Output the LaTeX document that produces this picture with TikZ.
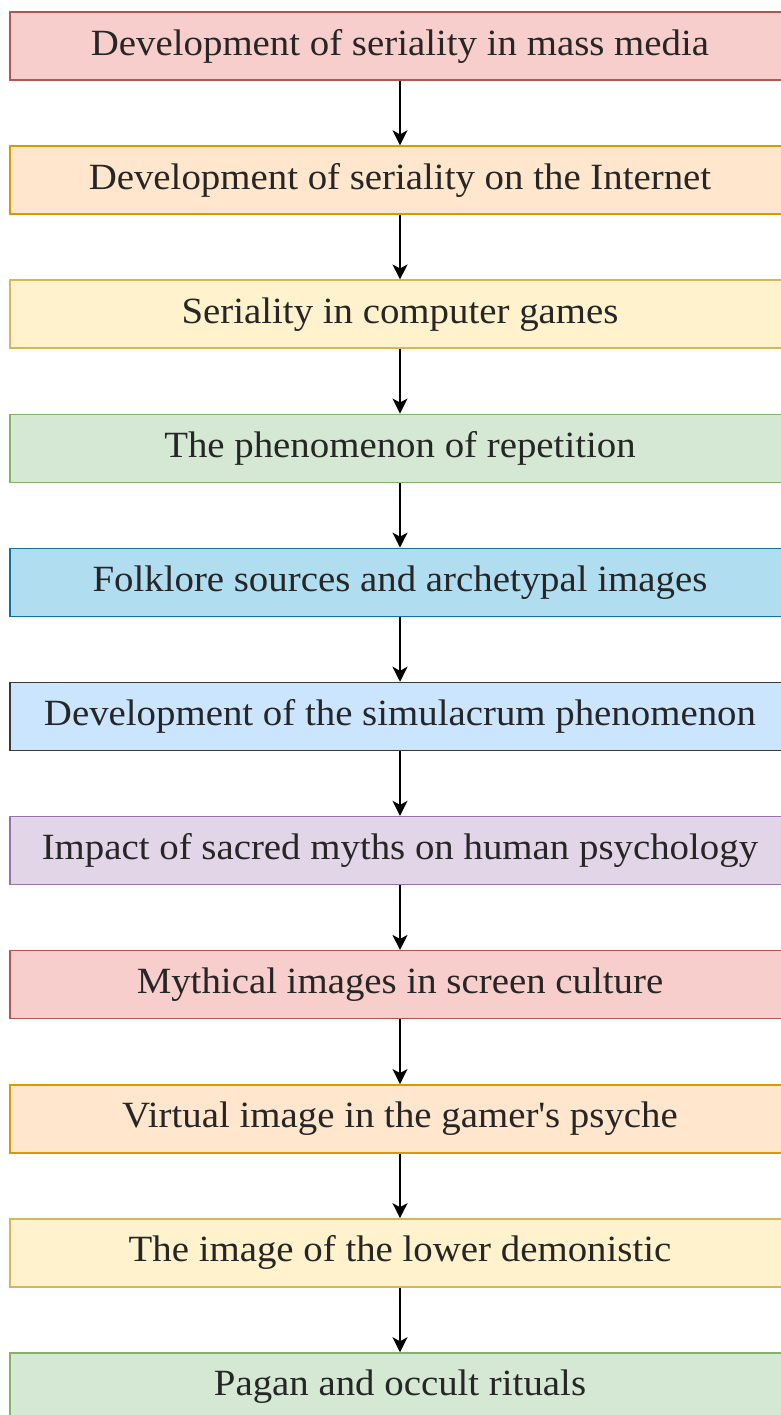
\documentclass[tikz,border=0pt]{standalone}
\usepackage{fontspec}
\setmainfont{Liberation Serif}[FakeStretch=1.05]
\usetikzlibrary{arrows.meta, positioning}
\definecolor{redfill}{HTML}{F8CECC}
\definecolor{redline}{HTML}{B85450}
\definecolor{orangefill}{HTML}{FFE6CC}
\definecolor{orangeline}{HTML}{D79B00}
\definecolor{yellowfill}{HTML}{FFF2CC}
\definecolor{yellowline}{HTML}{D6B656}
\definecolor{greenfill}{HTML}{D5E8D4}
\definecolor{greenline}{HTML}{82B366}
\definecolor{bluefill}{HTML}{B1DDF0}
\definecolor{blueline}{HTML}{10739E}
\definecolor{skyfill}{HTML}{CCE5FF}
\definecolor{skyline}{HTML}{36393D}
\definecolor{purplefill}{HTML}{E1D5E7}
\definecolor{purpleline}{HTML}{9673A6}

\begin{document}
\begin{tikzpicture}[
  x=1pt, y=1pt,
  node distance=64.6pt,
  box/.style={draw=#1line, fill=#1fill, line width=1.5pt, minimum height=68pt, minimum width=780pt, inner sep=0pt, text=black!85, font=\fontsize{37}{42}\selectfont},
  arr/.style={-{Stealth[length=15pt, width=15pt, inset=4pt]}, line width=1.8pt},
]
\useasboundingbox (0,0) rectangle (781,-1415);
\clip (0,0) rectangle (781,-1415);
\node[box=red] (media) at (400,-46) {Development of seriality in mass media};
\node[box=orange, below=of media] (internet) {Development of seriality on the Internet};
\node[box=yellow, below=of internet] (games) {Seriality in computer games};
\node[box=green, below=of games] (repeat) {The phenomenon of repetition};
\node[box=blue, below=of repeat] (folk) {Folklore sources and archetypal images};
\node[box=sky, below=of folk] (simul) {Development of the simulacrum phenomenon};
\node[box=purple, below=of simul] (myths) {Impact of sacred myths on human psychology};
\node[box=red, below=of myths] (screen) {Mythical images in screen culture};
\node[box=orange, below=of screen] (psyche) {Virtual image in the gamer\textquotesingle s psyche};
\node[box=yellow, below=of psyche] (demon) {The image of the lower demonistic};
\node[box=green, below=of demon] (ritual) {Pagan and occult rituals};

\draw[arr] (media) -- (internet);
\draw[arr] (internet) -- (games);
\draw[arr] (games) -- (repeat);
\draw[arr] (repeat) -- (folk);
\draw[arr] (folk) -- (simul);
\draw[arr] (simul) -- (myths);
\draw[arr] (myths) -- (screen);
\draw[arr] (screen) -- (psyche);
\draw[arr] (psyche) -- (demon);
\draw[arr] (demon) -- (ritual);
\end{tikzpicture}
\end{document}
